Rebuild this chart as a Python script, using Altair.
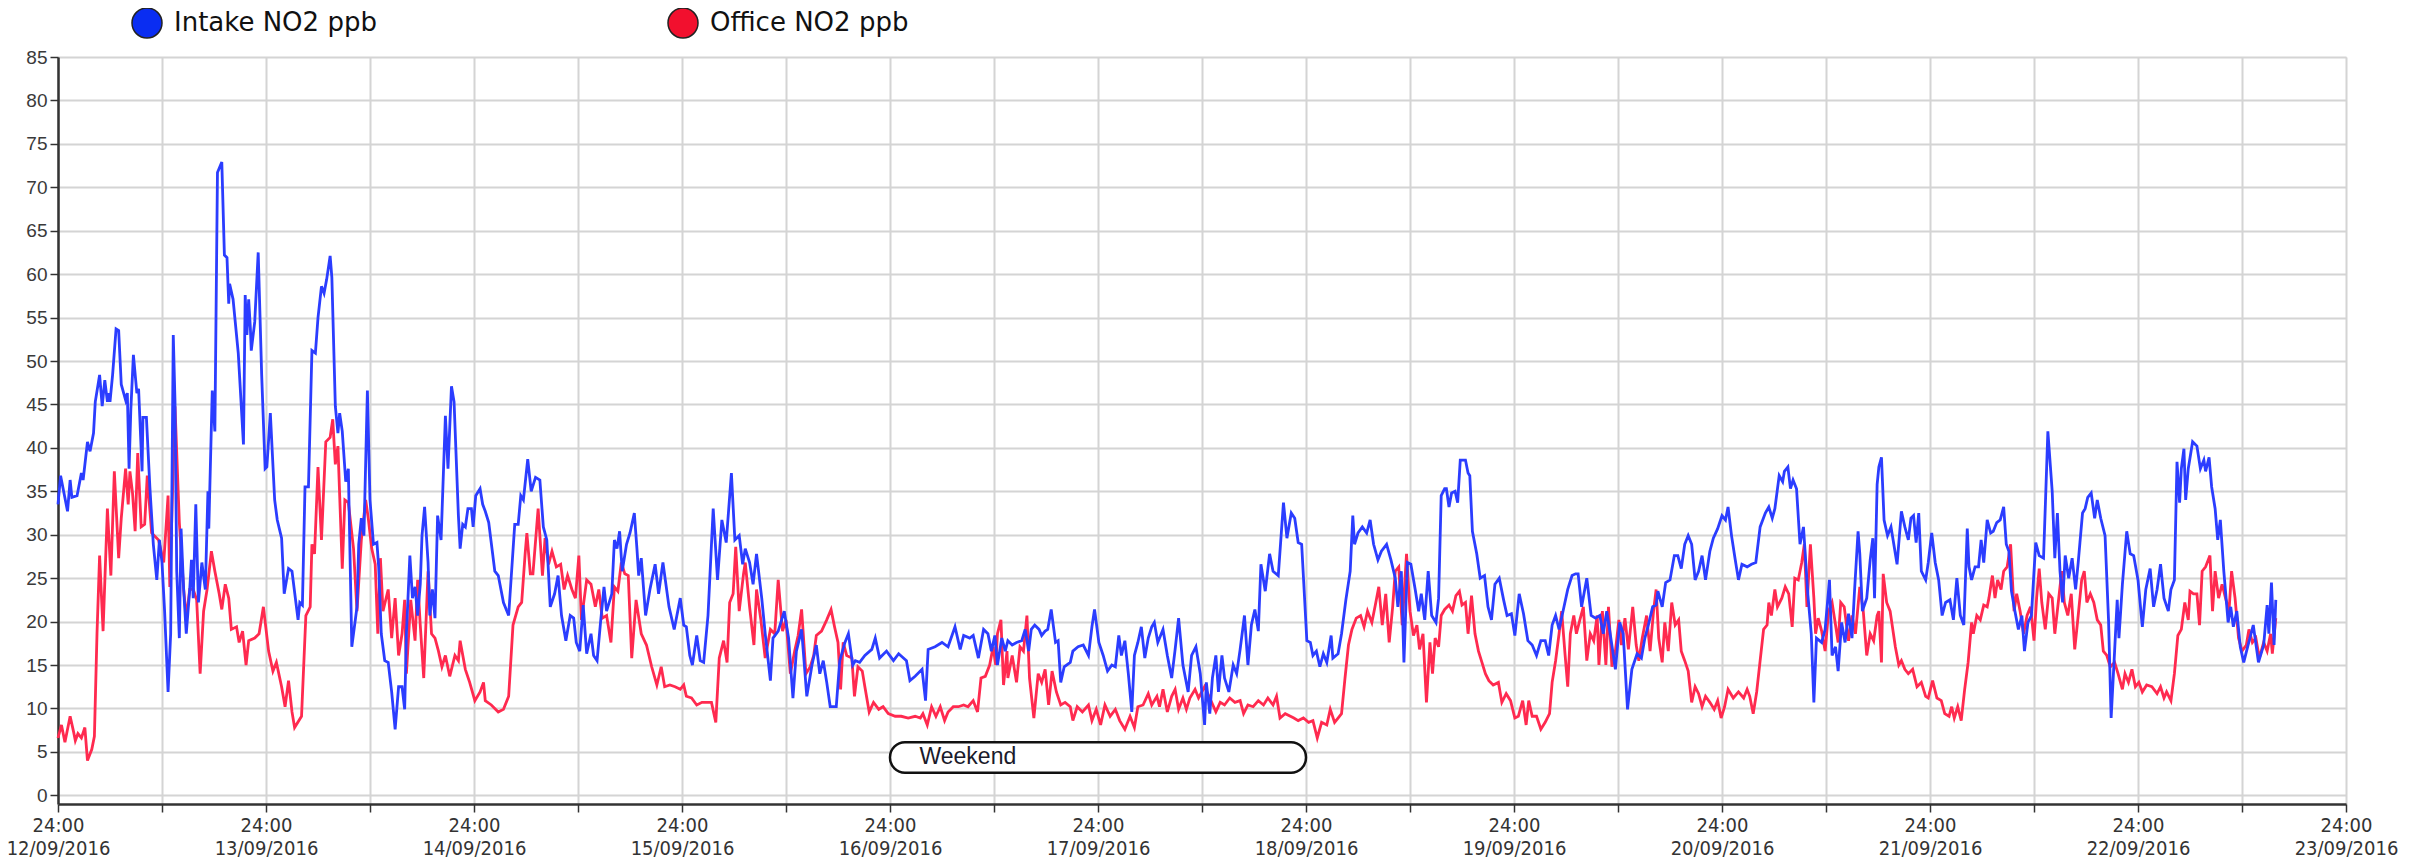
import altair as alt
import pandas as pd

# ---- data (hours after 12/09/2016 24:00, NO2 ppb) ----
intake_h = [0.0,0.3,1.1,1.4,1.6,2.2,2.7,2.9,3.4,3.7,4.1,4.3,4.8,5.1,5.4,5.7,5.9,6.0,6.3,6.7,7.0,7.3,7.8,8.0,8.2,8.4,8.7,9.1,9.3,9.7,9.8,10.2,10.6,11.0,11.4,11.7,12.0,12.3,12.7,13.0,13.3,13.5,13.7,14.0,14.2,14.5,14.8,15.2,15.4,15.6,15.9,16.2,16.6,17.0,17.3,17.4,17.8,18.1,18.4,18.9,19.2,19.5,19.7,19.8,20.2,20.8,21.4,21.6,21.8,22.0,22.2,22.3,22.7,23.1,23.5,23.9,24.1,24.5,25.0,25.3,25.8,26.1,26.6,27.0,27.7,27.9,28.2,28.5,28.9,29.3,29.7,30.0,30.4,30.7,31.0,31.4,31.6,32.0,32.3,32.5,32.8,33.2,33.5,33.9,34.5,34.7,35.0,35.3,35.7,36.0,36.4,36.8,37.0,37.3,37.7,38.1,38.5,38.9,39.3,39.7,40.0,40.2,40.6,40.9,41.2,41.5,41.8,42.0,42.3,42.7,42.9,43.2,43.5,43.8,44.2,44.7,45.0,45.4,45.7,46.2,46.4,46.7,47.0,47.3,47.7,47.9,48.2,48.7,49.0,49.3,49.7,50.4,50.8,51.4,52.0,52.7,53.1,53.4,53.7,
    54.2,54.6,55.1,55.6,56.0,56.4,56.8,57.3,57.7,58.1,58.6,59.1,59.5,59.8,60.2,60.6,61.0,61.5,61.8,62.2,62.6,63.0,63.3,63.9,64.2,64.5,64.8,65.1,65.6,66.0,66.5,66.8,67.0,67.3,67.8,68.3,68.9,69.3,69.8,70.5,71.1,71.8,72.2,72.5,72.9,73.2,73.7,74.1,74.5,75.0,75.6,76.1,76.6,77.1,77.7,78.1,78.6,79.0,79.3,79.8,80.2,80.6,81.2,81.6,82.2,82.5,83.1,83.8,84.3,84.8,85.2,85.8,86.4,87.0,87.5,87.9,88.3,88.7,89.1,89.8,90.2,90.8,91.2,91.7,92.0,92.5,93.1,93.9,94.3,94.8,95.6,96.4,97.0,97.9,98.3,98.9,99.7,100.1,100.4,101.2,102.0,102.7,103.5,104.1,104.5,105.2,105.6,
    106.2,106.8,107.3,107.7,108.1,108.4,108.9,109.3,109.6,110.1,110.6,111.2,111.6,112.0,112.3,112.7,113.2,113.5,113.9,114.2,114.6,115.1,115.4,115.7,116.1,116.8,117.1,117.7,118.3,118.9,119.3,119.6,120.1,120.6,121.1,121.6,122.0,122.4,122.7,123.1,123.5,123.9,124.2,124.6,125.0,125.4,125.8,126.2,126.5,126.9,127.5,128.0,128.5,128.9,129.3,129.8,130.4,130.8,131.3,131.8,132.3,132.5,132.9,133.2,133.6,133.9,134.3,134.6,135.1,135.6,136.0,136.4,136.9,137.3,137.7,138.1,138.5,138.8,139.3,139.8,140.2,140.8,141.4,141.8,142.3,142.7,143.1,143.5,144.1,144.5,144.8,145.2,145.6,146.0,146.4,146.9,147.1,147.7,148.1,148.6,149.1,149.4,149.6,150.0,150.5,151.0,151.4,151.8,152.3,152.7,153.3,153.8,154.3,154.6,155.0,155.3,155.7,156.1,156.6,157.0,157.3,157.7,158.1,158.5,159.0,159.3,159.6,160.0,
    160.2,160.5,160.8,161.2,161.5,161.8,162.4,162.7,162.9,163.2,163.7,164.1,164.6,165.0,165.4,165.8,166.3,166.8,167.2,167.7,168.1,168.6,169.1,169.6,170.1,170.6,171.1,171.6,172.0,172.4,172.8,173.2,173.7,174.2,174.7,175.1,175.4,175.8,176.4,176.9,177.4,177.9,178.3,178.7,179.1,179.7,180.2,180.6,181.1,181.6,182.2,182.7,183.1,183.5,184.0,184.4,184.6,185.1,185.5,186.0,186.5,186.9,187.3,187.7,188.1,188.5,188.9,189.3,189.7,190.1,190.6,191.0,191.5,192.0,192.4,192.7,193.1,193.5,193.9,194.3,194.9,195.4,195.9,196.4,197.0,197.4,197.8,198.1,198.6,199.0,199.2,199.6,199.9,200.2,200.6,201.0,201.4,201.7,201.9,202.3,202.6,202.9,203.5,203.9,204.4,204.7,205.1,205.4,205.8,206.2,206.6,207.0,207.3,207.7,207.9,208.2,208.7,209.1,209.4,209.6,209.9,210.1,210.4,210.7,211.1,211.5,212.2,212.7,213.1,
    213.5,213.8,214.1,214.4,214.7,215.0,215.5,215.8,216.2,216.6,217.0,217.4,217.8,218.3,218.7,219.1,219.5,219.9,220.3,220.5,220.8,221.2,221.6,221.9,222.2,222.6,223.0,223.3,223.7,224.1,224.5,224.8,225.1,225.4,225.8,226.2,226.6,226.9,227.3,227.7,228.2,228.6,229.1,229.6,230.1,230.4,230.7,231.0,231.3,231.6,232.0,232.4,232.8,233.1,233.3,233.6,233.9,234.2,234.6,235.0,235.3,235.7,236.2,236.6,236.9,237.3,237.6,237.8,238.2,238.7,239.1,239.5,240.0,240.5,240.9,241.4,241.8,242.2,242.6,243.0,243.5,243.8,244.2,244.5,244.8,245.0,245.3,245.5,245.8,246.3,246.8,247.2,247.6,247.8,248.2,248.5,248.9,249.2,249.5,249.9,250.4,250.7,251.0,251.4,251.8,252.2,252.7,253.3,253.9,254.5,254.9,255.1,255.4,255.7,255.9]
intake_v = [33.5,36.8,32.7,36.3,34.3,34.5,37.1,36.3,40.7,39.6,41.7,45.3,48.4,44.8,47.8,45.3,46.3,45.3,48.4,53.7,53.5,47.3,45.5,46.3,37.6,44.3,50.7,46.3,46.8,37.3,43.5,43.5,35.5,28.9,24.8,29.4,26.8,21.2,11.9,18.6,53.0,45.3,25.8,18.1,30.7,23.7,18.6,23.7,27.1,22.7,33.5,22.2,26.8,23.7,35.0,30.7,46.6,41.9,71.7,72.9,62.2,61.9,56.6,58.9,57.1,50.9,40.4,57.6,53.0,57.1,53.7,51.2,54.5,62.5,48.4,37.6,37.8,44.0,34.0,31.7,29.6,23.2,26.1,25.8,20.2,22.2,21.9,35.5,35.5,51.2,50.9,55.0,58.6,57.8,59.4,62.1,59.6,44.8,41.7,44.0,41.9,36.1,37.6,17.1,21.7,28.9,31.9,29.9,46.6,34.0,28.9,29.1,26.3,18.6,15.5,15.3,11.9,7.6,12.5,12.5,9.9,18.6,27.6,22.7,24.0,20.7,24.3,29.9,33.2,26.8,20.7,23.7,20.4,32.2,29.4,43.7,37.6,47.1,45.3,32.2,28.4,31.2,30.9,33.0,33.0,30.9,34.5,35.3,33.5,32.7,31.4,25.8,25.3,22.2,20.7,31.2,31.2,34.5,34.0,
    38.7,35.0,36.6,36.3,30.9,29.4,21.7,23.2,25.3,20.7,17.8,20.7,20.4,17.6,16.6,21.9,16.3,18.6,16.1,15.5,19.9,24.0,21.2,23.2,29.4,28.4,30.4,25.8,28.9,30.2,32.5,28.4,25.3,27.3,20.7,23.7,26.6,23.2,26.8,21.7,19.1,22.7,19.6,19.4,16.1,15.0,18.4,15.5,15.3,20.7,33.0,24.8,31.7,29.1,37.1,29.4,29.9,26.6,28.4,26.8,24.3,27.8,22.7,18.6,13.2,18.1,18.9,21.2,18.1,11.2,16.6,19.1,11.4,15.0,17.3,14.0,15.5,13.0,10.2,10.2,15.5,17.6,18.6,15.0,15.5,15.3,16.1,16.8,18.1,15.8,16.6,15.5,16.3,15.5,13.2,13.7,14.5,10.9,16.8,17.1,17.6,17.1,19.4,16.8,18.4,18.1,18.4,
    15.8,19.1,18.6,16.6,18.4,15.0,18.1,16.6,17.8,17.3,17.6,17.8,19.1,16.6,19.1,19.6,19.1,18.4,18.9,19.1,21.4,17.6,17.8,13.0,14.8,15.3,16.6,17.1,17.3,16.1,19.4,21.4,17.6,16.1,14.3,15.0,14.8,18.4,16.1,17.8,14.0,9.6,16.1,17.6,19.4,15.8,18.1,19.4,19.9,17.6,19.1,16.1,13.5,16.8,20.4,15.0,11.9,16.1,17.1,14.0,8.1,13.0,9.4,13.5,16.1,11.9,16.1,13.5,11.9,15.0,14.0,16.8,20.7,15.0,19.6,21.4,18.9,26.6,23.5,27.8,25.8,25.3,33.7,29.6,32.5,31.9,29.1,28.9,17.8,17.6,16.1,16.6,14.8,16.3,15.3,18.4,15.8,16.3,18.6,22.5,25.8,32.2,28.9,30.2,30.9,30.2,31.7,28.9,27.1,28.1,28.9,27.1,25.0,21.7,25.8,15.3,26.8,26.6,23.7,21.2,23.2,20.2,25.8,20.7,19.9,22.7,34.5,35.3,
    35.3,33.2,34.8,35.0,33.7,38.6,38.6,37.1,36.8,30.4,27.8,25.0,25.3,21.7,20.2,24.3,25.0,22.5,20.7,20.9,18.4,23.2,20.9,17.8,17.3,16.1,17.8,17.8,16.1,19.6,20.7,19.1,21.4,23.7,25.3,25.5,25.5,21.7,25.0,20.7,20.4,20.7,18.6,21.2,18.6,14.5,19.9,18.6,9.9,14.5,16.3,15.8,18.1,19.6,21.7,21.9,23.5,21.7,24.5,24.8,27.6,27.6,26.1,28.9,29.9,28.9,24.8,25.8,27.6,24.8,28.1,29.6,30.7,32.2,31.7,33.2,29.9,27.3,24.8,26.6,26.3,26.6,26.8,30.9,32.5,33.2,31.9,33.0,36.8,36.1,37.3,37.8,35.3,36.3,35.3,28.9,30.9,26.3,23.2,18.6,10.7,18.1,17.6,19.1,24.8,16.1,17.1,14.3,19.9,17.6,20.9,18.1,23.7,30.4,27.8,21.2,22.7,27.1,29.6,22.7,35.8,37.8,38.9,31.7,29.9,30.9,26.6,32.7,30.9,
    29.4,31.9,32.2,29.1,32.5,25.8,24.8,26.8,30.2,26.8,24.8,20.7,22.2,22.5,20.2,25.0,20.7,19.6,30.7,26.3,24.8,26.3,26.3,29.4,26.8,31.7,30.2,30.4,31.4,31.7,33.2,28.9,28.1,23.5,21.2,19.1,20.7,16.6,19.9,20.7,29.1,27.6,27.3,41.9,35.0,27.3,32.5,25.8,22.2,27.6,25.0,27.3,23.7,26.8,29.1,32.5,33.0,34.3,34.8,31.9,34.0,31.9,29.9,20.2,8.9,16.6,22.5,18.1,24.3,30.4,27.8,27.6,24.8,19.4,23.7,26.1,21.7,23.7,26.6,22.7,21.2,23.7,24.8,38.4,33.7,37.6,39.9,34.0,37.6,40.7,40.2,37.6,38.6,37.3,38.9,35.5,33.0,29.4,31.7,25.8,19.9,21.7,19.4,21.2,17.1,15.3,17.3,19.6,15.3,17.3,21.9,18.6,24.5,17.3,22.5]

office_h = [0.0,0.4,0.8,1.4,1.8,2.0,2.3,2.7,3.1,3.4,3.9,4.2,4.5,4.8,5.2,5.7,6.1,6.5,7.0,7.3,7.8,8.1,8.3,8.6,8.9,9.2,9.6,10.0,10.3,10.8,11.6,12.2,12.7,12.9,13.5,14.0,14.5,14.8,15.2,15.6,16.0,16.4,16.8,17.2,17.7,18.1,18.6,18.9,19.3,19.7,20.0,20.6,20.9,21.3,21.7,22.0,22.7,23.2,23.7,24.3,24.8,25.2,25.8,26.2,26.6,27.0,27.3,28.1,28.6,29.1,29.3,29.6,30.0,30.4,30.9,31.4,31.7,32.0,32.3,32.8,33.1,33.5,34.1,34.5,35.0,35.5,35.8,36.2,36.6,36.9,37.2,37.5,38.1,38.5,38.9,39.3,39.7,40.0,40.2,40.7,41.2,41.5,41.8,42.2,42.7,43.1,43.5,43.9,44.3,44.7,45.2,45.8,46.2,46.4,47.0,47.5,48.1,48.7,49.1,49.3,50.0,50.8,51.4,52.0,52.5,53.1,53.5,53.9,
    54.1,54.5,54.8,55.4,55.9,56.2,56.6,57.0,57.5,58.0,58.4,58.8,59.3,59.7,60.1,60.4,61.0,61.5,62.0,62.4,62.8,63.3,63.8,64.2,64.6,65.0,65.4,65.8,66.2,66.7,67.3,67.9,68.5,69.1,69.6,70.0,70.6,71.2,71.8,72.2,72.5,73.1,73.7,74.3,74.8,75.4,75.9,76.3,76.8,77.2,77.5,77.9,78.2,78.6,79.1,79.3,79.8,80.3,80.6,81.1,81.6,82.2,82.7,83.1,83.6,84.0,84.5,85.0,85.4,85.8,86.3,86.8,87.2,87.5,88.1,88.7,89.2,89.6,90.0,90.3,90.6,91.0,91.6,91.9,92.3,92.8,93.1,93.6,94.1,94.7,95.2,95.8,96.6,97.3,98.1,98.9,99.5,99.8,100.3,100.8,101.3,101.8,102.3,102.7,103.3,103.9,104.5,105.0,105.6,106.1,106.5,107.0,
    107.5,107.9,108.2,108.4,108.8,109.1,109.5,109.6,110.1,110.6,111.0,111.4,111.8,112.1,112.6,113.1,113.5,113.9,114.3,114.7,115.2,115.7,116.2,116.8,117.1,117.6,118.2,118.9,119.3,119.8,120.3,120.8,121.4,122.0,122.5,123.1,123.7,124.2,124.6,125.2,125.8,126.2,126.8,127.1,127.5,128.0,128.5,128.9,129.3,129.8,130.2,130.6,131.2,131.6,132.3,132.9,133.6,134.1,134.6,135.2,135.8,136.4,136.8,137.3,137.9,138.5,139.1,139.6,140.2,140.6,141.0,141.6,142.2,142.6,143.1,143.7,144.3,144.8,145.3,145.8,146.4,146.8,147.3,147.7,148.1,148.5,148.9,149.3,149.8,150.3,150.7,151.1,151.6,152.0,152.4,152.8,153.2,153.6,154.0,154.3,154.7,155.1,155.6,156.0,156.4,156.8,157.1,157.5,157.9,158.3,158.6,158.9,159.3,159.6,160.0,
    160.5,160.9,161.3,161.7,162.0,162.4,162.7,163.1,163.5,163.9,164.3,164.7,165.1,165.6,166.2,166.6,167.1,167.6,168.1,168.5,169.0,169.4,169.7,170.1,170.6,171.1,171.6,172.1,172.4,172.8,173.2,173.5,173.9,174.2,174.5,174.9,175.2,175.6,176.0,176.4,176.8,177.2,177.6,177.8,178.2,178.6,178.9,179.3,179.7,180.1,180.4,180.8,181.2,181.7,182.1,182.4,182.8,183.3,183.7,184.1,184.4,184.7,185.1,185.4,185.8,186.2,186.6,187.0,187.3,187.7,188.1,188.5,188.9,189.3,189.7,190.1,190.6,191.1,191.5,191.9,192.3,192.7,193.3,193.9,194.5,194.9,195.2,195.6,196.0,196.4,196.8,197.2,197.4,197.7,198.1,198.4,198.9,199.3,199.7,200.1,200.4,200.8,201.2,201.5,201.8,202.2,202.6,202.8,203.1,203.5,203.9,204.3,204.7,205.1,205.4,205.7,206.1,206.6,207.0,207.4,207.9,208.3,208.7,209.1,209.5,209.9,210.1,210.4,210.6,211.0,211.4,212.0,212.4,212.7,213.1,
    213.5,214.0,214.5,215.0,215.5,215.8,216.3,216.8,217.3,217.7,218.2,218.5,218.8,219.2,219.6,220.0,220.4,220.8,221.0,221.4,221.8,222.2,222.6,222.8,223.2,223.5,223.8,224.2,224.5,224.9,225.3,225.7,226.0,226.4,226.8,227.2,227.6,228.0,228.3,228.6,228.9,229.3,229.7,230.1,230.4,230.8,231.2,231.5,231.9,232.3,232.7,233.1,233.5,233.8,234.1,234.5,234.9,235.3,235.7,236.0,236.4,236.8,237.3,237.7,238.2,238.5,238.9,239.3,239.7,240.1,240.5,241.0,241.6,242.2,242.6,243.0,243.3,243.8,244.2,244.6,245.0,245.4,245.8,246.0,246.4,246.8,247.1,247.4,247.8,248.3,248.6,248.9,249.3,249.7,250.1,250.5,250.8,251.2,251.6,252.0,252.5,252.8,253.2,253.6,254.0,254.5,254.9,255.3,255.5,255.9]
office_v = [6.6,8.1,6.1,9.1,7.3,6.3,7.1,6.6,7.8,4.0,5.3,6.8,18.6,27.6,18.9,33.0,25.3,37.3,27.3,31.9,37.6,33.5,37.3,34.8,30.4,39.4,30.9,31.2,36.8,30.2,29.4,26.8,34.5,24.0,44.8,31.4,23.7,20.4,23.7,23.7,22.5,14.0,21.2,23.7,28.1,25.8,23.2,21.4,24.3,22.7,19.1,19.4,17.6,18.9,15.0,17.8,18.1,18.6,21.7,16.6,14.3,15.3,12.5,10.2,13.2,9.6,7.8,9.1,20.7,21.7,28.9,27.8,37.8,29.4,40.7,41.2,43.3,38.1,40.2,26.1,34.0,33.7,28.4,21.2,29.4,34.0,31.9,28.4,26.6,18.6,27.3,21.2,23.7,18.1,22.7,16.1,18.6,22.5,14.0,22.5,17.8,24.8,19.6,13.5,25.8,18.6,18.1,16.6,14.8,16.1,13.7,16.1,15.5,17.8,14.5,13.0,10.9,11.9,13.0,10.9,10.4,9.6,9.9,11.4,19.6,21.7,22.2,27.8,
    30.2,25.5,25.5,33.0,25.3,29.6,26.6,28.1,26.3,26.6,23.7,25.3,23.7,22.7,27.6,20.2,24.8,24.3,21.7,23.7,20.4,20.7,17.6,24.0,23.5,26.8,25.5,25.3,15.8,22.5,18.6,17.3,14.8,12.7,14.8,12.5,12.7,12.5,12.2,12.7,11.4,11.2,10.4,10.7,10.7,10.7,8.4,15.8,17.8,15.3,22.2,23.2,28.6,21.2,25.5,26.8,21.7,17.3,23.7,20.2,15.8,19.1,18.6,24.8,18.9,20.2,14.0,16.6,18.4,21.4,14.0,14.8,16.1,18.4,18.9,20.2,21.4,19.4,17.6,12.2,17.6,16.1,15.8,11.4,14.8,14.3,12.5,9.6,10.7,9.9,10.2,9.4,9.1,9.1,8.9,9.1,8.9,9.4,8.1,10.2,9.1,10.2,8.6,9.6,10.2,10.2,10.4,10.2,10.9,9.6,13.5,13.7,
    15.0,17.1,15.0,18.6,20.2,12.7,16.6,13.5,16.1,13.0,17.1,16.6,20.7,13.5,8.9,14.0,13.0,14.5,10.4,14.3,11.9,10.4,10.7,10.2,8.6,10.2,9.6,10.4,8.6,9.9,8.1,10.4,9.1,9.9,8.6,7.6,9.1,7.8,10.2,10.4,11.7,10.4,11.4,10.2,12.2,9.6,11.4,12.2,9.9,11.2,9.9,11.2,12.2,11.2,12.5,11.2,9.6,10.7,10.4,11.2,10.7,10.9,9.4,10.4,10.2,10.9,10.4,11.2,10.4,11.4,8.9,9.4,9.1,8.9,8.6,8.9,8.4,8.6,6.6,8.4,8.1,9.9,8.4,8.9,9.4,13.5,17.3,19.1,20.4,20.7,19.4,21.2,19.9,21.9,24.0,19.6,23.2,17.6,21.7,25.8,26.3,19.6,27.8,21.2,18.4,19.6,16.8,18.6,10.7,17.6,14.0,18.1,17.1,20.7,21.4,
    21.9,21.2,23.0,23.5,21.9,22.2,18.6,23.0,18.6,16.6,15.3,14.0,13.2,12.7,13.0,10.7,11.7,10.9,8.9,9.1,10.9,8.1,10.9,9.1,9.1,7.6,8.4,9.4,13.0,15.5,18.6,21.2,16.1,12.5,18.6,20.7,18.6,20.2,21.7,15.5,18.6,17.8,20.7,15.0,21.2,15.0,21.7,14.8,16.6,20.2,17.3,20.4,16.8,21.7,17.3,15.5,18.1,20.7,16.6,21.2,23.7,18.1,15.3,19.9,16.6,22.2,19.6,20.2,16.6,15.5,14.3,10.7,12.5,11.7,10.2,11.4,10.7,9.9,10.9,8.9,10.2,12.2,11.2,11.9,11.2,12.2,11.4,9.4,11.9,15.5,19.1,19.6,22.2,20.7,23.7,21.7,22.7,24.0,23.2,19.4,25.0,24.8,26.8,28.9,21.7,28.9,22.7,18.6,20.4,18.9,16.6,21.2,22.2,19.6,17.6,22.2,21.7,17.8,20.7,18.6,24.0,21.2,16.1,18.6,17.8,20.7,21.2,15.3,25.5,22.2,21.2,17.1,15.0,15.5,14.5,
    14.0,14.5,12.5,13.0,11.4,11.2,13.2,11.2,10.9,9.4,9.1,10.2,8.9,10.2,8.6,12.2,15.3,19.9,18.6,20.7,20.2,21.9,21.7,22.7,25.3,22.7,24.8,23.7,25.8,26.3,28.9,21.2,23.2,21.2,18.6,20.7,21.7,17.8,22.7,26.1,22.2,19.1,23.2,22.7,18.6,22.2,25.8,22.2,20.7,23.2,16.8,20.7,24.8,25.8,22.2,23.2,22.2,20.2,19.6,16.6,16.1,14.8,15.3,14.0,12.2,14.0,13.0,14.5,12.5,13.0,11.9,12.7,12.5,11.7,12.5,11.2,11.9,10.9,14.0,18.4,19.1,22.2,20.2,23.5,23.2,23.2,19.6,25.8,26.3,27.6,21.2,25.8,22.7,24.3,22.7,21.2,25.8,22.7,18.1,16.6,17.3,19.1,17.6,18.1,15.8,17.6,16.6,18.6,16.3,20.4]

series_names = ["Intake NO2 ppb", "Office NO2 ppb"]
series_colors = ["#2b3dff", "#ff2a4f"]
legend_colors = ["#0a2df2", "#f2102e"]

# weekend annotation (hours / ppb)
weekend_start = [96]
weekend_end = [144]
weekend_low = [2.6]
weekend_high = [6.1]
weekend_label = ["Weekend"]
weekend_text_h = [99.4]
weekend_text_v = [4.4]

tick_hours = list(range(0, 265, 12))
y_ticks = list(range(0, 90, 5))

df = pd.concat([
    pd.DataFrame({"hour": intake_h, "ppb": intake_v, "series": series_names[0]}),
    pd.DataFrame({"hour": office_h, "ppb": office_v, "series": series_names[1]}),
], ignore_index=True)

wk = pd.DataFrame({"x": weekend_start, "x2": weekend_end, "y": weekend_low, "y2": weekend_high})
wt = pd.DataFrame({"x": weekend_text_h, "y": weekend_text_v, "t": weekend_label})

x_scale = alt.Scale(domain=[0, 264], nice=False, zero=False)
y_scale = alt.Scale(domain=[-1, 85], nice=False, zero=False)

x_axis = alt.Axis(
    values=tick_hours, title=None, grid=True, gridColor="#d4d4d4", gridWidth=2,
    tickSize=8, tickColor="#333333", tickWidth=1.5, domainColor="#333333", domainWidth=2.5,
    labelExpr="datum.value % 24 == 0 ? ['24:00', format(12 + datum.value / 24, '02d') + '/09/2016'] : ''",
    labelFont="Liberation Sans Narrow, DejaVu Sans Condensed, Liberation Sans",
    labelFontSize=20, labelLineHeight=23, labelColor="#333333", labelPadding=3,
    labelOverlap=False, labelFlush=False, labelBound=False, labelBaseline="top",
)
y_axis = alt.Axis(
    values=y_ticks, title=None, grid=True, gridColor="#d4d4d4", gridWidth=2,
    tickSize=8, tickColor="#333333", tickWidth=1.5, domainColor="#333333", domainWidth=2.5,
    labelFont="Liberation Sans", labelFontSize=19, labelColor="#3a3a3a", labelPadding=3,
    labelOverlap=False, labelFlush=False,
)

legend = alt.Legend(
    title=None, orient="none", legendX=73, legendY=-50, direction="horizontal",
    symbolType="circle", symbolSize=900, symbolStrokeColor="#222222", symbolStrokeWidth=1.5,
    symbolOpacity=1, labelLimit=500,
    labelFont="DejaVu Sans", labelFontSize=26, labelColor="#111111", labelOffset=11,
    columnPadding=288,
)

X = alt.X("hour:Q", scale=x_scale, axis=x_axis)
Y = alt.Y("ppb:Q", scale=y_scale, axis=y_axis)

office_line = alt.Chart(df).transform_filter(alt.datum.series == series_names[1]).mark_line(
    strokeWidth=2.8, color=series_colors[1]).encode(x=X, y=Y)
intake_line = alt.Chart(df).transform_filter(alt.datum.series == series_names[0]).mark_line(
    strokeWidth=2.8, color=series_colors[0]).encode(x=X, y=Y)

# legend carrier: no rows pass the filter, the legend entries come from the explicit domain
legend_layer = alt.Chart(df).transform_filter("datum.hour < -1").mark_point(
    filled=True, stroke="#222222", strokeWidth=1.5).encode(
    x=X, y=Y,
    color=alt.Color("series:N", scale=alt.Scale(domain=series_names, range=legend_colors), legend=legend),
)

rect = alt.Chart(wk).mark_rect(cornerRadius=15, fill="white", stroke="#111111", strokeWidth=2.5).encode(
    x="x:Q", x2="x2:Q", y="y:Q", y2="y2:Q")
text = alt.Chart(wt).mark_text(align="left", baseline="middle", fontSize=23, font="Liberation Sans", color="#1a1a2a").encode(
    x="x:Q", y="y:Q", text="t:N")

chart = alt.layer(office_line, intake_line, legend_layer, rect, text).properties(
    width=2288, height=747,
    padding={"left": 50, "top": 49, "right": 55, "bottom": 56},
    autosize=alt.AutoSizeParams(type="none"),
).configure_view(stroke="#333333", strokeWidth=2.5).configure(background="white")

chart.save("out.html", embed_options={"renderer": "svg", "actions": False})
